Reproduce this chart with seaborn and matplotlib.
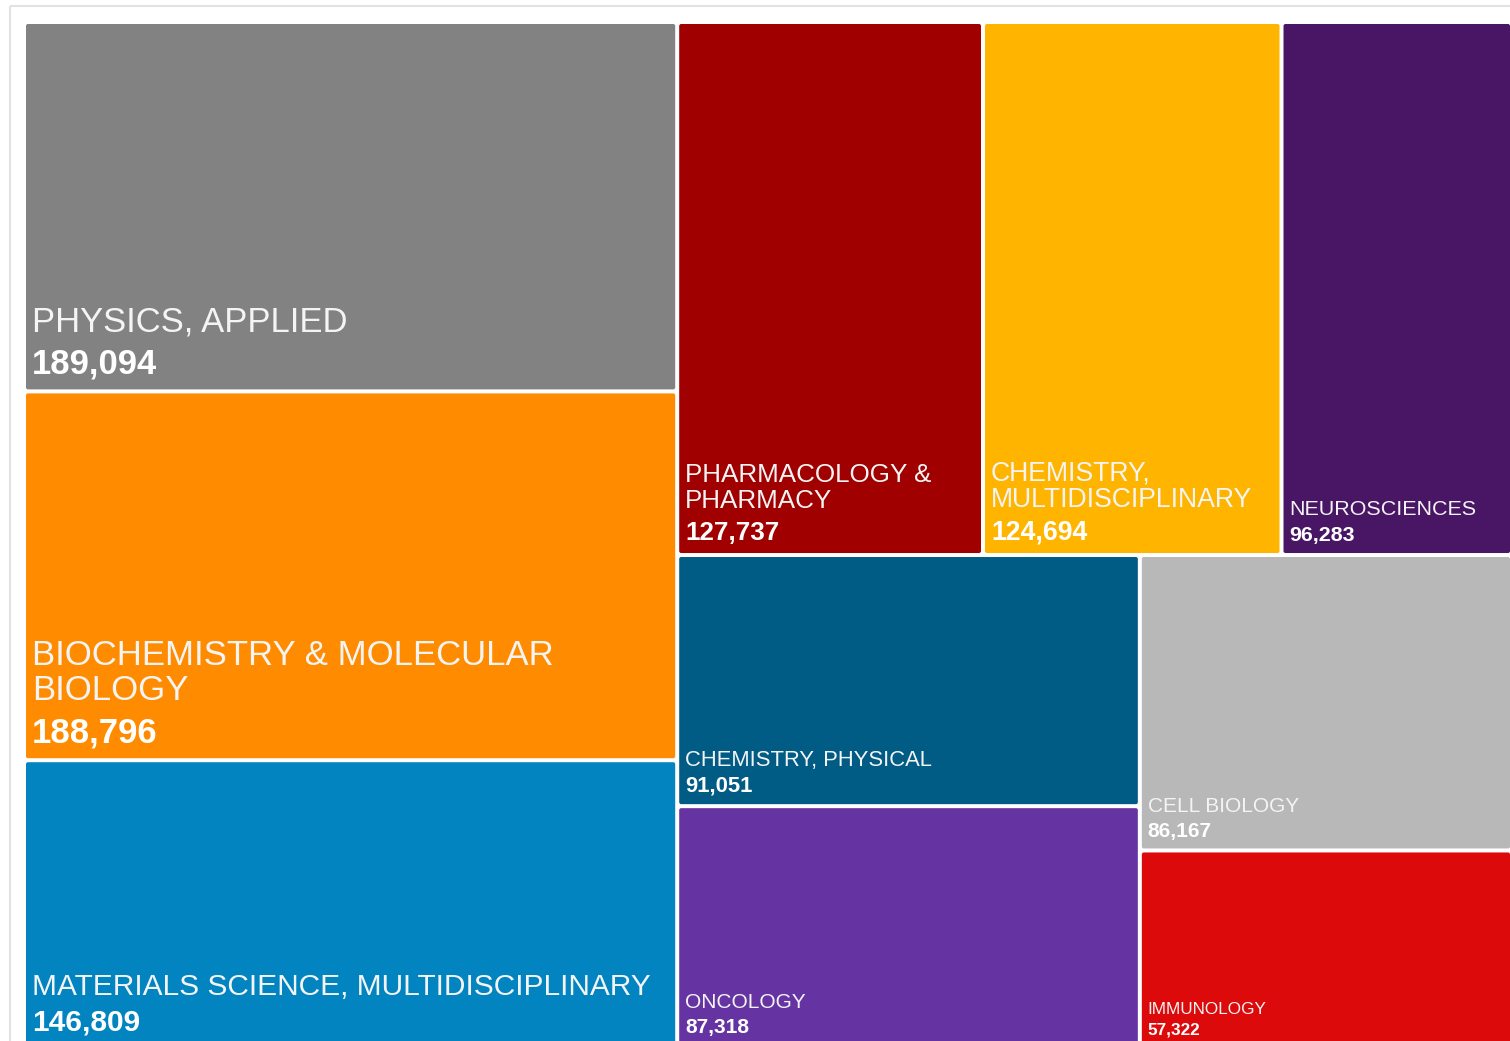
import matplotlib
matplotlib.use("Agg")
import matplotlib.pyplot as plt
import seaborn as sns
from matplotlib.patches import FancyBboxPatch

# --- data -------------------------------------------------------------------
categories = [
    "PHYSICS, APPLIED",
    "BIOCHEMISTRY & MOLECULAR BIOLOGY",
    "MATERIALS SCIENCE, MULTIDISCIPLINARY",
    "PHARMACOLOGY & PHARMACY",
    "CHEMISTRY, MULTIDISCIPLINARY",
    "NEUROSCIENCES",
    "CHEMISTRY, PHYSICAL",
    "ONCOLOGY",
    "CELL BIOLOGY",
    "IMMUNOLOGY",
]
counts = [189094, 188796, 146809, 127737, 124694, 96283, 91051, 87318, 86167, 57322]

# --- style ------------------------------------------------------------------
tile_colors = ["#828282", "#FF8C00", "#0284C1", "#A00000", "#FFB400",
               "#481665", "#005B85", "#6534A2", "#B8B8B8", "#DC0A0A"]
font_pt = [24.9, 25.0, 21.5, 18.7, 19.2, 15.45, 15.8, 15.05, 15.0, 12.3]

W_PX, H_PX, DPI = 1510, 1041, 100
GAP = 2.0  # half gap between tiles, px


def worst(row, fixed, ratio):
    s = sum(row)
    if s == 0:
        return float("inf")
    f = fixed * fixed * ratio
    return max(f * max(row) / (s * s), (s * s) / (f * min(row)))


def squarify(values, x, y, w, h, ratio=(1 + 5 ** 0.5) / 2):
    """Squarified treemap (golden-ratio variant). Returns (x, y, w, h), y downwards."""
    total = float(sum(values))
    areas = [v / total * w * h for v in values]
    rects = []
    rect = [x, y, w, h]

    def place(row):
        rx, ry, rw, rh = rect
        s = sum(row)
        if rw <= rh:  # row along the top
            th = s / rw
            cx = rx
            for a in row:
                tw = a / th
                rects.append((cx, ry, tw, th))
                cx += tw
            rect[1] += th
            rect[3] -= th
        else:  # column on the left
            tw = s / rh
            cy = ry
            for a in row:
                th = a / tw
                rects.append((rx, cy, tw, th))
                cy += th
            rect[0] += tw
            rect[2] -= tw

    row, best = [], float("inf")
    queue = list(areas)
    while queue:
        cand = row + [queue[0]]
        score = worst(cand, min(rect[2], rect[3]), ratio)
        if score <= best:
            row, best = cand, score
            queue.pop(0)
        else:
            place(row)
            row, best = [], float("inf")
    if row:
        place(row)
    return rects


sns.set_theme(style="white")
plt.rcParams["font.family"] = ["Liberation Sans", "DejaVu Sans"]

fig = plt.figure(figsize=(W_PX / DPI, H_PX / DPI), dpi=DPI)
ax = fig.add_axes([0, 0, 1, 1])
ax.set_xlim(0, W_PX)
ax.set_ylim(H_PX, 0)
ax.axis("off")

# light frame of the chart container
ax.plot([10, 10], [6, H_PX], color="#e2e2e2", lw=1.5, solid_capstyle="butt")
ax.plot([10, W_PX], [6, 6], color="#e2e2e2", lw=1.5, solid_capstyle="butt")

order = sorted(range(len(counts)), key=lambda i: -counts[i])
vals = [counts[i] for i in order]
layout = squarify(vals, 24, 22, 1488, 1025)

renderer = fig.canvas.get_renderer()


def text_width(s, size):
    t = ax.text(0, 0, s, fontsize=size)
    wpx = t.get_window_extent(renderer).width
    t.remove()
    return wpx


def wrap(label, size, avail):
    lines, cur = [], ""
    for word in label.split(" "):
        trial = word if not cur else cur + " " + word
        if cur and text_width(trial, size) > avail:
            lines.append(cur)
            cur = word
        else:
            cur = trial
    lines.append(cur)
    return lines


for idx, (rx, ry, rw, rh) in zip(order, layout):
    x0, y0 = rx + GAP, ry + GAP
    w, h = rw - 2 * GAP, rh - 2 * GAP
    ax.add_patch(FancyBboxPatch((x0, y0), w, h,
                                boxstyle="round,pad=0,rounding_size=2",
                                facecolor=tile_colors[idx], edgecolor="none"))
    fs = font_pt[idx]
    fs_px = fs * DPI / 72
    tx = x0 + 6
    val_base = y0 + h - (5.7 + 0.3 * fs_px)
    ax.text(tx, val_base, f"{counts[idx]:,}", fontsize=fs, fontweight="bold",
            color="white", va="baseline", ha="left")
    lines = wrap(categories[idx], fs, w - 14)
    base = val_base - 1.2 * fs_px
    for line in reversed(lines):
        ax.text(tx, base, line, fontsize=fs, color="#f4f4f4",
                va="baseline", ha="left")
        base -= 1.02 * fs_px

fig.savefig("out.png", dpi=DPI)
plt.close(fig)
